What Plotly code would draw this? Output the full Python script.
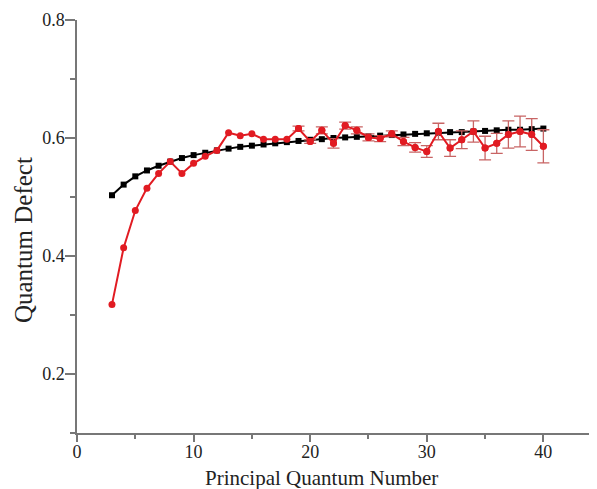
import plotly.graph_objects as go

n_vals = list(range(3, 41))

black_vals = [0.503, 0.521, 0.535, 0.545, 0.553, 0.560, 0.566, 0.571, 0.575, 0.579,
              0.582, 0.585, 0.587, 0.589, 0.591, 0.593, 0.595, 0.597, 0.598, 0.600,
              0.601, 0.602, 0.603, 0.604, 0.605, 0.606, 0.607, 0.608, 0.609, 0.610,
              0.610, 0.611, 0.612, 0.613, 0.614, 0.614, 0.615, 0.616]

red_vals = [0.318, 0.414, 0.477, 0.515, 0.540, 0.560, 0.540, 0.557, 0.569, 0.579,
            0.609, 0.604, 0.607, 0.598, 0.598, 0.598, 0.616, 0.594, 0.613, 0.591,
            0.621, 0.613, 0.601, 0.599, 0.607, 0.594, 0.584, 0.577, 0.611, 0.583,
            0.597, 0.611, 0.583, 0.591, 0.606, 0.611, 0.606, 0.586]

# error bars are visible only from n = 19 on
err_start = 16
red_err = [0.004, 0.003, 0.006, 0.008,
           0.006, 0.006, 0.006, 0.005, 0.005, 0.007, 0.008, 0.010, 0.014, 0.014,
           0.015, 0.018, 0.020, 0.017, 0.023, 0.026, 0.027, 0.028]

x_ticks = [0, 10, 20, 30, 40]
y_ticks = [0.2, 0.4, 0.6, 0.8]

RED = "#e11b22"

fig = go.Figure()
fig.add_trace(go.Scatter(
    x=n_vals, y=black_vals, mode="lines+markers",
    line=dict(color="black", width=2),
    marker=dict(symbol="square", size=6, color="black"),
    showlegend=False))
fig.add_trace(go.Scatter(
    x=n_vals[err_start:], y=red_vals[err_start:], mode="markers",
    marker=dict(symbol="circle", size=7, color=RED),
    error_y=dict(type="data", array=red_err, visible=True,
                 color="#c86464", thickness=1.3, width=6),
    showlegend=False))
fig.add_trace(go.Scatter(
    x=n_vals, y=red_vals, mode="lines+markers",
    line=dict(color=RED, width=2),
    marker=dict(symbol="circle", size=7, color=RED),
    showlegend=False))

axis_font = dict(family="Liberation Serif", size=18, color="#222")
fig.update_layout(
    width=589, height=481,
    margin=dict(l=69, r=0, t=12, b=56),
    paper_bgcolor="white", plot_bgcolor="white",
    font=dict(family="Liberation Serif", color="#222"),
    xaxis=dict(range=[0, 44.6], tickvals=x_ticks, ticks="outside", ticklen=7,
               tickcolor="#777", tickwidth=1.5, showline=True, linecolor="#777",
               linewidth=1.5, showgrid=False, zeroline=False, tickfont=axis_font,
               automargin=False, ticklabelstandoff=-5,
               minor=dict(dtick=5, tick0=0, ticks="outside", ticklen=4, tickcolor="#777")),
    yaxis=dict(range=[0.1, 0.8], tickvals=y_ticks, ticks="outside", ticklen=10,
               tickcolor="#777", tickwidth=1.5, showline=True, linecolor="#777",
               linewidth=1.5, showgrid=False, zeroline=False, tickfont=axis_font,
               tickformat=".1f", automargin=False, ticklabelstandoff=-3,
               minor=dict(dtick=0.1, tick0=0.1, ticks="outside", ticklen=5, tickcolor="#777")),
    annotations=[
        dict(text="Principal Quantum Number", xref="paper", yref="paper",
             x=0.471, y=-0.109, xanchor="center", yanchor="middle", showarrow=False,
             font=dict(family="Liberation Serif", size=21, color="#222")),
        dict(text="Quantum Defect", xref="paper", yref="paper",
             x=-0.104, y=0.467, xanchor="center", yanchor="middle", showarrow=False,
             textangle=-90,
             font=dict(family="Liberation Serif", size=25, color="#222")),
    ],
)

fig.write_html("out.html")
